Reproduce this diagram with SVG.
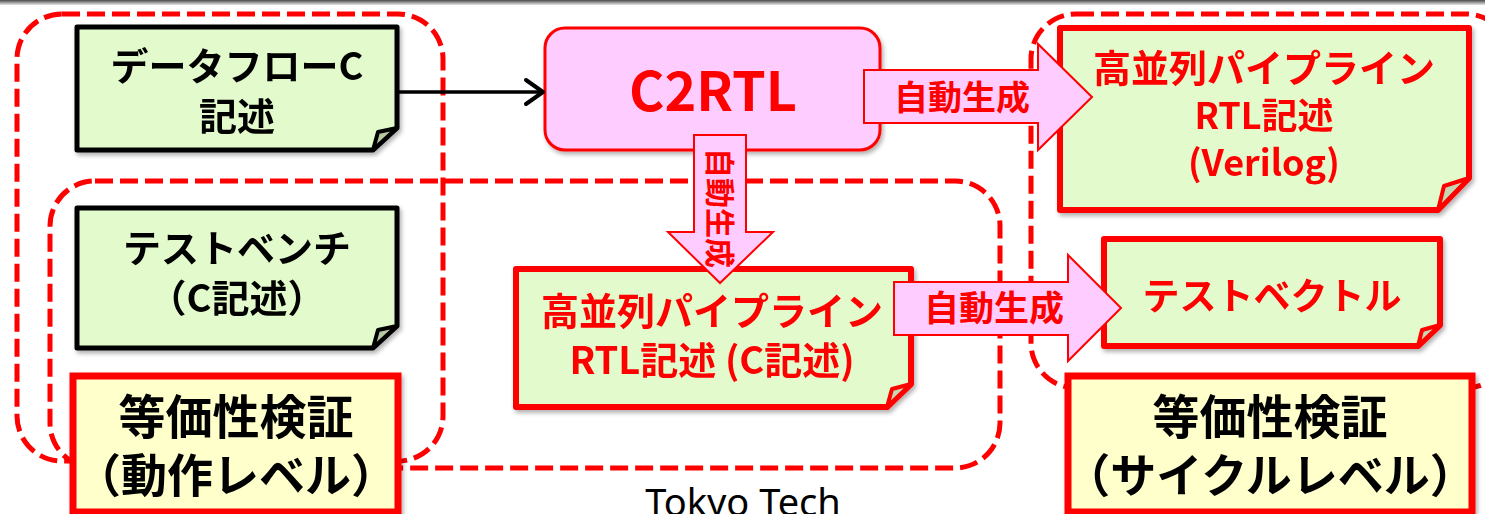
<svg xmlns="http://www.w3.org/2000/svg" width="1485" height="514" viewBox="0 0 1485 514">
<defs>
<linearGradient id="topbar" x1="0" y1="0" x2="0" y2="1">
<stop offset="0" stop-color="#4a4a4a"/>
<stop offset="0.5" stop-color="#999"/>
<stop offset="1" stop-color="#e6e6e6"/>
</linearGradient>
<filter id="sh" x="-5%" y="-5%" width="115%" height="120%">
<feDropShadow dx="2" dy="3" stdDeviation="2" flood-color="#000" flood-opacity="0.3"/>
</filter>
<style>
.grp{fill:none;stroke:#FF0000;stroke-width:5;stroke-dasharray:18 7}
.nb{fill:#E2FACC;stroke:#000;stroke-width:5;stroke-linejoin:round}
.nr{fill:#E2FACC;stroke:#FF0000;stroke-width:6;stroke-linejoin:round}
.flb{fill:#B8C8A0;stroke:#000;stroke-width:4;stroke-linejoin:round}
.flr{fill:#C5D8B3;stroke:#FF0000;stroke-width:4;stroke-linejoin:round}
.eq{fill:#FFFFCC;stroke:#FF0000;stroke-width:7}
.blk{fill:#FFCCFF;stroke:#FF0000;stroke-width:2;stroke-linejoin:miter}
.t{font-family:"Noto Sans CJK JP","Noto Sans",sans-serif;font-weight:bold;text-anchor:middle}
.k{fill:#000}
.r{fill:#FF0000}
</style>
</defs>
<rect x="0" y="0" width="1485" height="514" fill="#fff"/>
<rect x="0" y="0" width="1485" height="5" fill="url(#topbar)"/>

<g id="groups">
<rect class="grp" x="17" y="14" width="426" height="447" rx="45"/>
<rect class="grp" x="50" y="181" width="950" height="287" rx="45"/>
<rect class="grp" x="1031" y="14" width="480" height="374" rx="45"/>
</g>

<g id="dataflow" filter="url(#sh)">
<path class="nb" d="M77,27 H397 V128 L373,150 H77 Z"/>
<path class="flb" d="M373,150 L378,132 L397,128 Z"/>
<text class="t k" x="237" y="80" font-size="38">データフローC</text>
<text class="t k" x="237" y="130" font-size="38">記述</text>
</g>

<g id="testbench" filter="url(#sh)">
<path class="nb" d="M77,208 H397 V326 L373,348 H77 Z"/>
<path class="flb" d="M373,348 L378,330 L397,326 Z"/>
<text class="t k" x="237" y="262" font-size="38">テストベンチ</text>
<text class="t k" x="237" y="312" font-size="38">（C記述）</text>
</g>

<g id="eq-behav" filter="url(#sh)">
<rect class="eq" x="73" y="376" width="325" height="136"/>
<text class="t k" x="236" y="434" font-size="47">等価性検証</text>
<text class="t k" x="236" y="492" font-size="46">（動作レベル）</text>
</g>

<g id="c2rtl" filter="url(#sh)">
<rect x="545" y="28" width="335" height="122" rx="20" fill="#FFCCFF" stroke="#FF0000" stroke-width="3"/>
<text class="t r" x="713" y="111" font-size="54">C2RTL</text>
</g>

<g id="rtl-c" filter="url(#sh)">
<path class="nr" d="M516,269 H911 V384 L887,407 H516 Z"/>
<path class="flr" d="M887,407 L892,389 L911,384 Z"/>
<text class="t r" x="712" y="325" font-size="38">高並列パイプライン</text>
<text class="t r" x="712" y="374" font-size="38">RTL記述 (C記述)</text>
</g>

<g id="rtl-verilog" filter="url(#sh)">
<path class="nr" d="M1060,28 H1469 V178 L1438,210 H1060 Z"/>
<path class="flr" d="M1438,210 L1444,186 L1469,178 Z"/>
<text class="t r" x="1264" y="82" font-size="38">高並列パイプライン</text>
<text class="t r" x="1264" y="129" font-size="36">RTL記述</text>
<text class="t r" x="1264" y="176" font-size="36">(Verilog)</text>
</g>

<g id="testvector" filter="url(#sh)">
<path class="nr" d="M1104,239 H1440 V325 L1418,346 H1104 Z"/>
<path class="flr" d="M1418,346 L1422,330 L1440,325 Z"/>
<text class="t r" x="1272" y="310" font-size="37">テストベクトル</text>
</g>

<g id="eq-cycle" filter="url(#sh)">
<rect class="eq" x="1068" y="376" width="404" height="136"/>
<text class="t k" x="1270" y="434" font-size="47">等価性検証</text>
<text class="t k" x="1270" y="492" font-size="46">（サイクルレベル）</text>
</g>

<g id="connectors">
<line x1="398" y1="92" x2="542" y2="92" stroke="#000" stroke-width="3.5"/>
<polyline points="526,80 543,92 526,104" fill="none" stroke="#000" stroke-width="4" stroke-linecap="round" stroke-linejoin="round"/>

<g id="gen-right">
<polygon class="blk" points="864,70 1038,70 1038,44 1092,97 1038,150 1038,123 864,123"/>
<text class="t r" x="962" y="110" font-size="34">自動生成</text>
</g>

<g id="gen-down">
<polygon class="blk" points="694,135 746,135 746,232 773,232 720,283 668,232 694,232"/>
<text class="t r" font-size="30" transform="translate(720,208) rotate(90)" x="0" y="11">自動生成</text>
</g>

<g id="gen-tv">
<polygon class="blk" points="894,282 1068,282 1068,255 1121,308 1068,361 1068,335 894,335"/>
<text class="t r" x="994" y="321" font-size="35">自動生成</text>
</g>
</g>

<text x="743" y="516" font-family="Noto Sans, sans-serif" font-size="38" text-anchor="middle" fill="#000">Tokyo Tech</text>
</svg>
